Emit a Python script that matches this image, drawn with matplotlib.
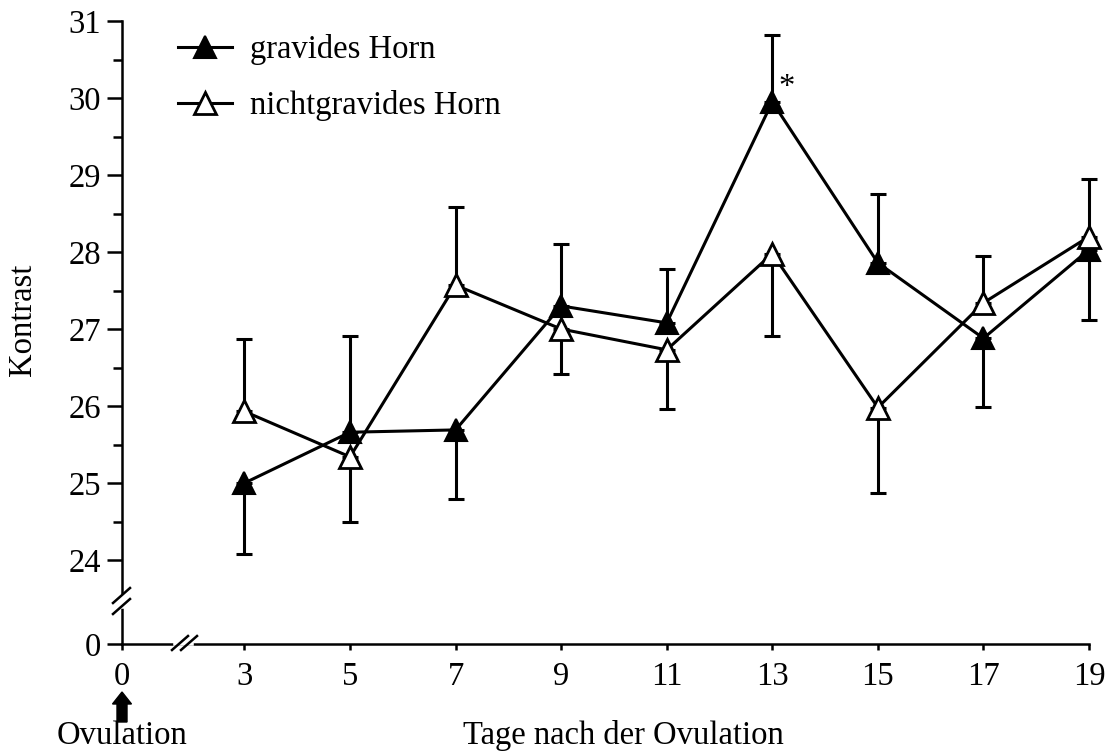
import matplotlib
matplotlib.use("Agg")
import matplotlib.pyplot as plt
from matplotlib.lines import Line2D
from matplotlib.patches import FancyArrow
from matplotlib.transforms import IdentityTransform

# Data
days = [3, 5, 7, 9, 11, 13, 15, 17, 19]
grav_mean = [25.00, 25.66, 25.69, 27.30, 27.08, 29.95, 27.86, 26.88, 28.03]
grav_err_lo = [0.92, 0, 0.90, 0, 0, 0, 0, 0.89, 0.91]
grav_err_up = [0, 1.25, 0, 0.81, 0.70, 0.87, 0.89, 0, 0]
nicht_mean = [25.93, 25.34, 27.57, 27.00, 26.73, 27.98, 25.98, 27.34, 28.20]
nicht_err_lo = [0, 0.84, 0, 0.59, 0.77, 1.07, 1.11, 0, 0]
nicht_err_up = [0.94, 0, 1.01, 0, 0, 0, 0, 0.61, 0.75]
y_ticks = [24, 25, 26, 27, 28, 29, 30, 31]
significant_day = 13

# Broken-axis layout: where the "0" of each axis sits
x_zero_pos = 0.68
y_zero_pos = 22.91

W, H = 1106, 751
FS = 23.5
plt.rcParams['font.family'] = ['Liberation Serif', 'DejaVu Serif']
plt.rcParams['font.size'] = FS

fig = plt.figure(figsize=(W / 100, H / 100), dpi=100)
ax = fig.add_axes([122 / W, 1 - 644 / H, (1089 - 122) / W, (644 - 21) / H])

lw = 2.2
ms = 15.5

# error bars (one-sided)
ax.errorbar(days, grav_mean, yerr=[grav_err_lo, grav_err_up], fmt='none',
            ecolor='black', elinewidth=lw, capsize=6, capthick=lw, zorder=2, clip_on=False)
ax.errorbar(days, nicht_mean, yerr=[nicht_err_lo, nicht_err_up], fmt='none',
            ecolor='black', elinewidth=lw, capsize=6, capthick=lw, zorder=2, clip_on=False)

l1, = ax.plot(days, grav_mean, color='black', lw=lw, marker='^', ms=ms,
              mfc='black', mec='black', mew=1.5, zorder=3, clip_on=False,
              label='gravides Horn')
l2, = ax.plot(days, nicht_mean, color='black', lw=lw, marker='^', ms=ms,
              mfc='white', mec='black', mew=2.0, zorder=4, clip_on=False,
              label='nichtgravides Horn')

i = days.index(significant_day)
ax.annotate('*', xy=(days[i], grav_mean[i]), xytext=(10.4, 4),
            textcoords='offset points', ha='center', va='baseline', fontsize=FS)

ax.set_xlim(x_zero_pos, 19)
ax.set_ylim(y_zero_pos, 31)

ax.set_xticks([x_zero_pos] + days)
ax.set_xticklabels(['0'] + [str(d) for d in days])
ax.set_yticks([y_zero_pos] + y_ticks)
ax.set_yticklabels(['0'] + [str(v) for v in y_ticks])
ax.set_yticks([v + 0.5 for v in y_ticks[:-1]], minor=True)

ax.tick_params(axis='y', which='major', direction='out', length=11, width=1.8, pad=4)
ax.tick_params(axis='y', which='minor', direction='out', length=6.5, width=1.8)
ax.tick_params(axis='x', which='major', direction='out', length=4.5, width=1.8, pad=8)

for s in ['top', 'right']:
    ax.spines[s].set_visible(False)
for s in ['left', 'bottom']:
    ax.spines[s].set_linewidth(1.8)

# axis breaks, drawn in image pixels (origin top-left converted)
def px(x, y):
    return x, H - y

def seg(x0, y0, x1, y1, color='black', width=1.8, z=10):
    a = px(x0, y0)
    b = px(x1, y1)
    fig.add_artist(Line2D([a[0], b[0]], [a[1], b[1]], color=color, lw=width,
                          transform=IdentityTransform(), zorder=z))

# y-axis break
seg(122, 597, 122, 606, color='white', width=4, z=9)
seg(113, 603, 130, 588)
seg(113, 614, 130, 599)
# x-axis break
seg(176, 643, 191, 643, color='white', width=4, z=9)
seg(172, 650, 188, 636)
seg(181, 650, 197, 636)

# Ovulation arrow
a = px(122, 722)
fig.add_artist(FancyArrow(a[0], a[1], 0, 30, width=10, head_width=19,
                          head_length=12, length_includes_head=True,
                          color='black', transform=IdentityTransform()))
fig.text(122 / W, 1 - 744 / H, 'Ovulation', ha='center', va='baseline', fontsize=FS)
fig.text(623 / W, 1 - 744 / H, 'Tage nach der Ovulation', ha='center', va='baseline', fontsize=FS)
fig.text(23 / W, 1 - 320 / H, 'Kontrast', ha='center', va='center', rotation=90, fontsize=FS)

ax.legend(handles=[l1, l2], loc='upper left', bbox_to_anchor=(178 / W, 1 - 34 / H),
          bbox_transform=fig.transFigure, frameon=False, borderpad=0,
          borderaxespad=0, handlelength=1.65, handletextpad=0.55,
          labelspacing=0.78, numpoints=1)

fig.savefig('out.png', dpi=100)
